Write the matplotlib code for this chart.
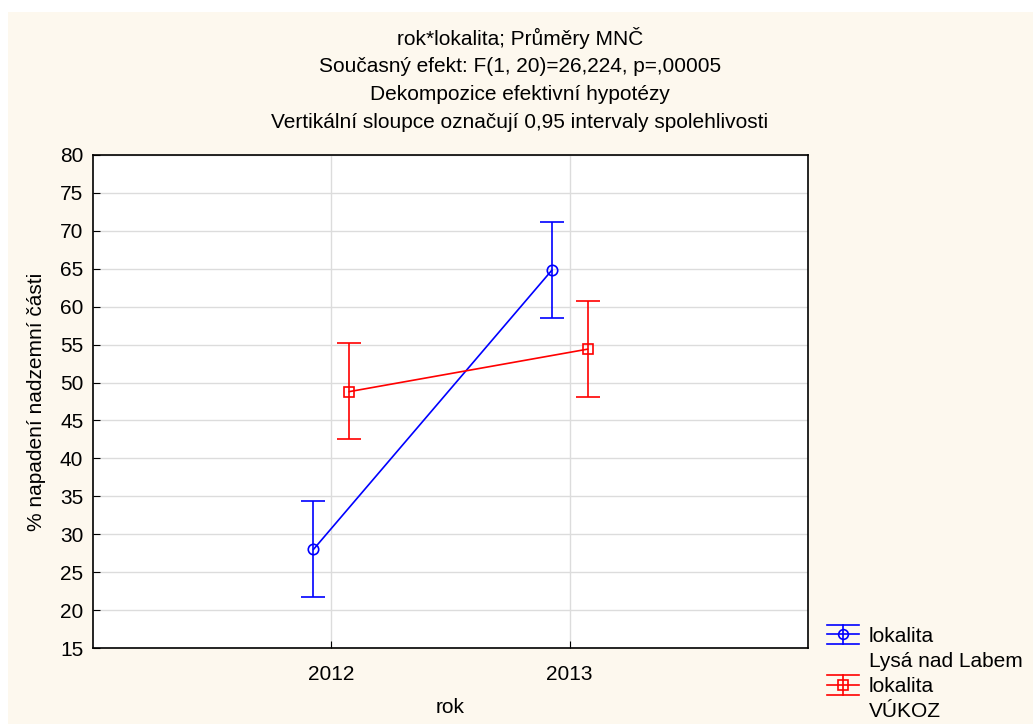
import numpy as np
import matplotlib
matplotlib.use('Agg')
from matplotlib import pyplot as plt
from matplotlib.lines import Line2D
from matplotlib.patches import Rectangle
from matplotlib.legend_handler import HandlerBase

plt.rcParams['font.family'] = ['Liberation Sans', 'DejaVu Sans']

# data
years = ['2012', '2013']
lysa_mean = [28.0, 64.8]
lysa_low = [21.7, 58.5]
lysa_high = [34.4, 71.2]
vukoz_mean = [48.8, 54.4]
vukoz_low = [42.5, 48.1]
vukoz_high = [55.2, 60.8]

title_lines = [
    'rok*lokalita; Průměry MNČ',
    'Současný efekt: F(1, 20)=26,224, p=,00005',
    'Dekompozice efektivní hypotézy',
    'Vertikální sloupce označují 0,95 intervaly spolehlivosti',
]

bg = '#fdf8ee'
blue = '#0000ff'
red = '#ff0000'
fs = 15

fig = plt.figure(figsize=(10.33, 7.24), dpi=100)
fig.patch.set_facecolor('white')
# cream panel (leaves a thin white strip top/left like the original export)
fig.add_artist(Rectangle((8 / 1033, 0), 1, 1 - 12 / 724, transform=fig.transFigure,
                         facecolor=bg, edgecolor='none', zorder=-10))

ax = fig.add_axes([93 / 1033, 1 - 648 / 724, (808 - 93) / 1033, (648 - 155) / 724])
ax.set_facecolor('white')

x = np.arange(1, len(years) + 1)
off = 0.075


def draw(xpos, mean, low, high, color, marker):
    mean = np.array(mean)
    yerr = [mean - np.array(low), np.array(high) - mean]
    ax.errorbar(xpos, mean, yerr=yerr, color=color, lw=1.2, marker=marker,
                ms=7.5, mfc='none', mec=color, mew=1.2, capsize=8.5,
                capthick=1.2, zorder=3)


draw(x - off, lysa_mean, lysa_low, lysa_high, blue, 'o')
draw(x + off, vukoz_mean, vukoz_low, vukoz_high, red, 's')

ax.set_xlim(0, 3)
ax.set_ylim(15, 80)
ax.set_yticks(np.arange(15, 81, 5))
ax.set_xticks(x)
ax.set_xticklabels(years)
ax.grid(True, color='#dcdcdc', lw=1)
ax.set_axisbelow(True)
ax.tick_params(direction='in', length=5, labelsize=fs, color='black', pad=12)
ax.tick_params(axis='y', pad=7)
for s in ax.spines.values():
    s.set_color('black')
    s.set_linewidth(1.2)

ax.set_xlabel('rok', fontsize=fs, labelpad=10)
ax.set_ylabel('% napadení nadzemní části', fontsize=fs, labelpad=10)

for i, t in enumerate(title_lines):
    fig.text(520 / 1033, 1 - (38 + i * 28) / 724, t, ha='center', va='center',
             fontsize=15)


class ErrHandler(HandlerBase):
    def __init__(self, color, marker):
        super().__init__()
        self.color = color
        self.marker = marker

    def create_artists(self, legend, orig_handle, xdescent, ydescent, width,
                       height, fontsize, trans):
        c = self.color
        cy = height / 2 - ydescent
        h = 7
        arts = [
            Line2D([0, width], [cy, cy], color=c, lw=1.2),
            Line2D([0, width], [cy + h, cy + h], color=c, lw=1.2),
            Line2D([0, width], [cy - h, cy - h], color=c, lw=1.2),
            Line2D([width / 2, width / 2], [cy - h, cy + h], color=c, lw=1.2),
            Line2D([width / 2], [cy], marker=self.marker, ms=7, mfc='none',
                   mec=c, mew=1.2),
        ]
        for a in arts:
            a.set_transform(trans)
        return arts


class BlankHandler(HandlerBase):
    def create_artists(self, legend, orig_handle, xdescent, ydescent, width,
                       height, fontsize, trans):
        a = Line2D([0], [0], color='none')
        a.set_transform(trans)
        return [a]


h1 = Line2D([], [], color=blue)
h2 = Line2D([], [], color='none')
h3 = Line2D([], [], color=red)
h4 = Line2D([], [], color='none')
leg = fig.legend([h1, h2, h3, h4],
                 ['lokalita', 'Lysá nad Labem', 'lokalita', 'VÚKOZ'],
                 handler_map={h1: ErrHandler(blue, 'o'), h2: BlankHandler(),
                              h3: ErrHandler(red, 's'), h4: BlankHandler()},
                 loc='upper left', bbox_to_anchor=(812 / 1033, 1 - 612 / 724),
                 frameon=False, fontsize=fs, handlelength=1.55,
                 handletextpad=0.48, labelspacing=0.3, borderpad=0.2)

fig.savefig('out.png', dpi=100, facecolor=fig.get_facecolor())
